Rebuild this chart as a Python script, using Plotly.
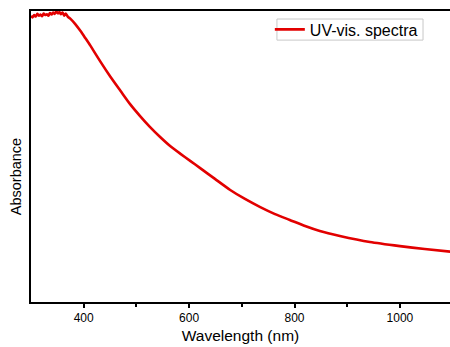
import plotly.graph_objects as go

wavelength = [300, 303, 306, 309, 312, 315, 318, 321, 324, 327, 330, 333, 336, 339, 342, 345, 348, 351, 354, 357, 360, 363, 366, 370, 375, 384, 394, 403, 413, 432, 451, 470, 488, 507, 526, 545, 564, 583, 602, 621, 649, 678, 706, 735, 763, 791, 820, 848, 886, 943, 1000, 1047, 1100]
absorbance = [0.983, 0.978, 0.986, 0.981, 0.990, 0.984, 0.988, 0.982, 0.991, 0.986, 0.989, 0.984, 0.993, 0.988, 0.995, 0.990, 0.998, 0.992, 0.996, 0.989, 0.995, 0.984, 0.991, 0.980, 0.973, 0.955, 0.931, 0.907, 0.880, 0.825, 0.773, 0.725, 0.680, 0.639, 0.601, 0.567, 0.536, 0.510, 0.485, 0.460, 0.423, 0.385, 0.354, 0.326, 0.302, 0.282, 0.261, 0.244, 0.227, 0.206, 0.192, 0.182, 0.172]

x_ticks = [400, 600, 800, 1000]
x_minor_ticks = [500, 700, 900]

fig = go.Figure()
fig.add_trace(go.Scatter(
    x=wavelength, y=absorbance, mode="lines",
    name="UV-vis. spectra",
    line=dict(color="#e20000", width=2.6, shape="spline", smoothing=0.6),
))

# legend frame (thin light-grey box as in the reference)
fig.add_shape(type="rect", xref="paper", yref="paper",
              x0=0.587, x1=0.9356, y0=0.900, y1=0.9725,
              line=dict(color="#c8c8c8", width=1), fillcolor="rgba(0,0,0,0)", layer="above")

fig.add_annotation(text="Absorbance", xref="paper", yref="paper",
                   x=-0.035, y=0.43, xanchor="center", yanchor="middle",
                   textangle=-90, showarrow=False, font=dict(size=14.5))

fig.update_layout(
    width=450, height=347,
    margin=dict(l=31, r=0, t=11, b=45, autoexpand=False),
    paper_bgcolor="white", plot_bgcolor="white",
    font=dict(family="Liberation Sans, Arial, sans-serif", color="black"),
    showlegend=True,
    legend=dict(
        x=0.570, y=0.995, xanchor="left", yanchor="top",
        bgcolor="rgba(0,0,0,0)", borderwidth=0,
        font=dict(size=16), itemwidth=30,
        tracegroupgap=0,
    ),
    xaxis=dict(
        range=[300, 1095], tickvals=x_ticks, automargin=False,
        showgrid=False, zeroline=False,
        showline=True, linecolor="black", linewidth=2, mirror=True,
        ticks="outside", ticklen=4, tickwidth=2, tickcolor="black",
        tickfont=dict(size=12),
        minor=dict(tickvals=x_minor_ticks, ticks="outside", ticklen=3, tickwidth=2, tickcolor="black"),
        title=dict(text="Wavelength (nm)", font=dict(size=15.5), standoff=6),
    ),
    yaxis=dict(
        range=[0, 1.0], showgrid=False, zeroline=False, automargin=False,
        showline=True, linecolor="black", linewidth=2, mirror=False,
        showticklabels=False, ticks="",
    ),
)

fig.write_html(
    "out.html",
    config={"responsive": False, "displayModeBar": False},
    post_script="document.body.style.margin='0';document.body.style.overflow='hidden';",
)
